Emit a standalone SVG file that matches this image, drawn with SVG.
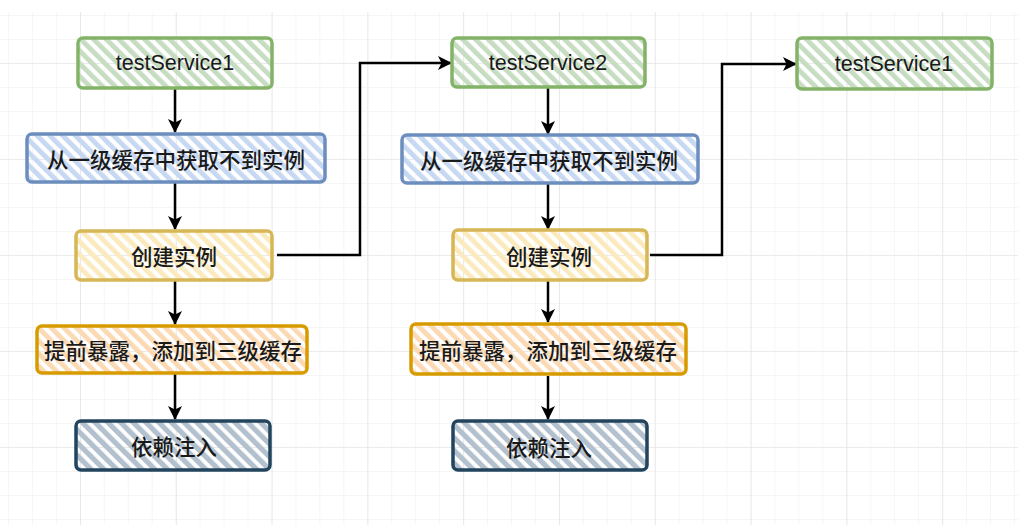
<svg xmlns="http://www.w3.org/2000/svg" width="1034" height="525" viewBox="0 0 1034 525">
  <defs>
    <pattern id="gridMinor" patternUnits="userSpaceOnUse" width="23.95" height="24" x="8" y="15">
      <path d="M0 0V24M0 0H23.95" fill="none" stroke="#eeeeee" stroke-width="1"/>
    </pattern>
    <pattern id="gridMajor" patternUnits="userSpaceOnUse" width="95.8" height="96" x="80" y="63">
      <path d="M0 0V96M0 0H95.8" fill="none" stroke="#e0e0e0" stroke-width="1.2"/>
    </pattern>
    <pattern id="hG" patternUnits="userSpaceOnUse" width="9" height="9" patternTransform="rotate(-45)">
      <rect width="4.8" height="9" fill="#c6ddc2"/>
    </pattern>
    <pattern id="hB" patternUnits="userSpaceOnUse" width="9" height="9" patternTransform="rotate(-45)">
      <rect width="4.8" height="9" fill="#c6d8f2"/>
    </pattern>
    <pattern id="hY" patternUnits="userSpaceOnUse" width="9" height="9" patternTransform="rotate(-45)">
      <rect width="4.8" height="9" fill="#faeabd"/>
    </pattern>
    <pattern id="hO" patternUnits="userSpaceOnUse" width="9" height="9" patternTransform="rotate(-45)">
      <rect width="4.8" height="9" fill="#fbd9b3"/>
    </pattern>
    <pattern id="hD" patternUnits="userSpaceOnUse" width="9" height="9" patternTransform="rotate(-45)">
      <rect width="5.2" height="9" fill="#b3c0cd"/>
    </pattern>
    <marker id="arr" viewBox="0 0 14 14" refX="13" refY="7" markerWidth="14" markerHeight="14" markerUnits="userSpaceOnUse" orient="auto">
      <path d="M0 0 L14 7 L0 14 L3.5 7 Z" fill="#000"/>
    </marker>
    <style>
      .box { stroke-width: 3.5; stroke-linejoin: round; }
      .g { fill: url(#hG); stroke: #82b366; }
      .b { fill: url(#hB); stroke: #6c8ebf; }
      .y { fill: url(#hY); stroke: #d6b656; }
      .o { fill: url(#hO); stroke: #d79b00; }
      .d { fill: url(#hD); stroke: #23445d; }
      .lbl { font-family: "Liberation Sans", Arial, sans-serif; font-size: 21.5px; fill: #1a1a1a; text-anchor: middle; dominant-baseline: central; }
      .cn { font-family: "Noto Sans CJK SC", "Noto Sans", sans-serif; font-size: 21.5px; fill: #1a1a1a; text-anchor: middle; dominant-baseline: central; font-weight: 500; }
      .edge { fill: none; stroke: #000; stroke-width: 2.5; marker-end: url(#arr); }
    </style>
  </defs>

  <rect width="1034" height="525" fill="#ffffff"/>
  <rect x="0" y="12" width="1018" height="513" fill="url(#gridMinor)"/>
  <rect x="0" y="12" width="1018" height="513" fill="url(#gridMajor)"/>

  <g id="connectors">
    <path class="edge" d="M175 89 V132"/>
    <path class="edge" d="M175 183 V229"/>
    <path class="edge" d="M175 281 V324"/>
    <path class="edge" d="M175 374 V419"/>
    <path class="edge" d="M277 255 H360 V63 H451"/>
    <path class="edge" d="M548 88 V134"/>
    <path class="edge" d="M548 184 V229"/>
    <path class="edge" d="M548 281 V322"/>
    <path class="edge" d="M548 376 V419"/>
    <path class="edge" d="M650 255 H722 V64 H796"/>
  </g>

  <g id="n1-service1">
    <rect class="box g" x="78" y="38" width="194" height="50" rx="5"/>
    <text class="lbl" x="175" y="63">testService1</text>
  </g>
  <g id="n1-cache">
    <rect class="box b" x="27" y="134" width="298" height="48" rx="5"/>
    <text class="cn" x="176" y="158">从一级缓存中获取不到实例</text>
  </g>
  <g id="n1-create">
    <rect class="box y" x="76" y="231" width="196" height="49" rx="5"/>
    <text class="cn" x="174" y="255">创建实例</text>
  </g>
  <g id="n1-expose">
    <rect class="box o" x="37" y="326" width="270" height="47" rx="5"/>
    <text class="cn" x="173" y="349">提前暴露，添加到三级缓存</text>
  </g>
  <g id="n1-inject">
    <rect class="box d" x="76" y="421" width="194" height="49" rx="5"/>
    <text class="cn" x="174" y="445">依赖注入</text>
  </g>

  <g id="n2-service2">
    <rect class="box g" x="452" y="38" width="193" height="49" rx="5"/>
    <text class="lbl" x="548" y="63">testService2</text>
  </g>
  <g id="n2-cache">
    <rect class="box b" x="402" y="135" width="296" height="48" rx="5"/>
    <text class="cn" x="549" y="159">从一级缓存中获取不到实例</text>
  </g>
  <g id="n2-create">
    <rect class="box y" x="453" y="230" width="194" height="50" rx="5"/>
    <text class="cn" x="549" y="255">创建实例</text>
  </g>
  <g id="n2-expose">
    <rect class="box o" x="411" y="324" width="275" height="50" rx="5"/>
    <text class="cn" x="548" y="349">提前暴露，添加到三级缓存</text>
  </g>
  <g id="n2-inject">
    <rect class="box d" x="453" y="421" width="194" height="49" rx="5"/>
    <text class="cn" x="549" y="446">依赖注入</text>
  </g>

  <g id="n3-service1">
    <rect class="box g" x="797" y="38" width="195" height="51" rx="5"/>
    <text class="lbl" x="894" y="64">testService1</text>
  </g>
</svg>
